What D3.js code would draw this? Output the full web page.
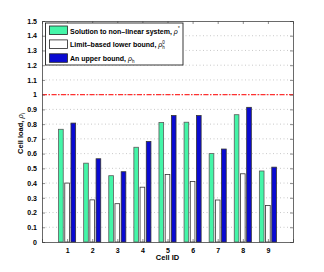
<!DOCTYPE html>
<html>
<head>
<meta charset="utf-8">
<script src="https://cdn.jsdelivr.net/npm/d3@7"></script>
<style>
  body { margin: 0; background: #fff; }
  text { font-family: "Liberation Sans", Arial, sans-serif; font-weight: bold; fill: #000; }
</style>
</head>
<body>
<div id="chart"></div>
<script>
const cells = [1, 2, 3, 4, 5, 6, 7, 8, 9];
const solution = [0.765, 0.535, 0.450, 0.643, 0.811, 0.813, 0.600, 0.864, 0.482];
const lowerBound = [0.400, 0.286, 0.260, 0.372, 0.458, 0.410, 0.285, 0.463, 0.248];
const upperBound = [0.807, 0.565, 0.477, 0.682, 0.858, 0.858, 0.631, 0.914, 0.508];
const yTicks = [0, 0.1, 0.2, 0.3, 0.4, 0.5, 0.6, 0.7, 0.8, 0.9, 1, 1.1, 1.2, 1.3, 1.4, 1.5];
const threshold = 1;

const series = [
  { key: 'sol', values: solution, fill: '#44f5a8', stroke: '#5a5a5a' },
  { key: 'low', values: lowerBound, fill: '#ffffff', stroke: '#333' },
  { key: 'up', values: upperBound, fill: '#0a0ad2', stroke: '#333' },
];

const width = 324, height = 272;
const margin = { top: 21, right: 31, bottom: 30, left: 42 };

const svg = d3.select('#chart').append('svg')
  .attr('width', width).attr('height', height);

const x = d3.scaleLinear().domain([0, 10]).range([margin.left, width - margin.right]);
const y = d3.scaleLinear().domain([0, 1.5]).range([height - margin.bottom, margin.top]);
const sub = d3.scaleBand().domain(series.map((s) => s.key)).range([-0.34, 0.34]).paddingInner(0.25);

// horizontal dotted grid
svg.append('g')
  .selectAll('line')
  .data(yTicks.slice(1, -1))
  .join('line')
  .attr('x1', x(0)).attr('x2', x(10))
  .attr('y1', (d) => y(d)).attr('y2', (d) => y(d))
  .attr('stroke', '#bbb')
  .attr('stroke-width', 0.8)
  .attr('stroke-dasharray', '1,2.5');

// bars
series.forEach((s) => {
  svg.append('g')
    .selectAll('rect')
    .data(s.values)
    .join('rect')
    .attr('x', (d, i) => x(cells[i] + sub(s.key)))
    .attr('width', x(sub.bandwidth()) - x(0))
    .attr('y', (d) => y(d))
    .attr('height', (d) => y(0) - y(d))
    .attr('fill', s.fill)
    .attr('stroke', s.stroke)
    .attr('stroke-width', 0.8);
});

// threshold line
svg.append('line')
  .attr('x1', x(0)).attr('x2', x(10))
  .attr('y1', y(threshold)).attr('y2', y(threshold))
  .attr('stroke', '#ff3030')
  .attr('stroke-width', 1.3)
  .attr('stroke-dasharray', '5,1.5,1.5,1.5');

// axes (inward ticks, boxed)
const yAxis = d3.axisLeft(y).tickValues(yTicks).tickSize(-3).tickPadding(5)
  .tickFormat((d) => d3.format('~g')(d));
const xAxis = d3.axisBottom(x).tickValues(cells).tickSize(-3).tickPadding(6);

const gy = svg.append('g').attr('transform', `translate(${x(0)},0)`).call(yAxis);
const gx = svg.append('g').attr('transform', `translate(0,${y(0)})`).call(xAxis);
svg.append('g').attr('transform', `translate(${x(10)},0)`)
  .call(d3.axisRight(y).tickValues(yTicks).tickSize(-3).tickFormat(''));
svg.append('g').attr('transform', `translate(0,${y(1.5)})`)
  .call(d3.axisTop(x).tickValues(cells).tickSize(-3).tickFormat(''));

svg.selectAll('.domain').attr('stroke', '#444').attr('stroke-width', 0.8);
svg.selectAll('.tick line').attr('stroke', '#444').attr('stroke-width', 0.6);
svg.selectAll('.tick text').attr('font-size', 7).attr('font-family', '"Liberation Sans", Arial, sans-serif').attr('font-weight', 'bold');

// axis labels
svg.append('text')
  .attr('x', (x(0) + x(10)) / 2).attr('y', 260)
  .attr('text-anchor', 'middle').attr('font-size', 7.5)
  .text('Cell ID');

const yl = svg.append('text')
  .attr('transform', `translate(23,${(y(0) + y(1.5)) / 2 + 2}) rotate(-90)`)
  .attr('text-anchor', 'middle').attr('font-size', 7.5);
yl.append('tspan').text('Cell load, ');
yl.append('tspan').attr('font-weight', 'normal').attr('font-style', 'italic').text('ρ');
yl.append('tspan').attr('font-size', 5).attr('dy', 2).attr('font-weight', 'normal').text('i');

// legend
const legendItems = [
  { label: 'Solution to non\u2013linear system, ', sup: '*', sub: '', fill: series[0].fill },
  { label: 'Limit\u2013based lower bound, ', sup: '0', sub: 'h', fill: series[1].fill },
  { label: 'An upper bound, ', sup: '', sub: 'h', fill: series[2].fill },
];

const legend = svg.append('g');
legend.append('rect')
  .attr('x', 45.5).attr('y', 23).attr('width', 137.5).attr('height', 42)
  .attr('fill', '#fff').attr('stroke', '#222').attr('stroke-width', 0.9);

const li = legend.selectAll('g.item')
  .data(legendItems)
  .join('g')
  .attr('class', 'item')
  .attr('transform', (d, i) => `translate(49.5,${26 + i * 13.9})`);

li.append('rect')
  .attr('width', 18).attr('height', 8.5)
  .attr('fill', (d) => d.fill)
  .attr('stroke', '#222').attr('stroke-width', 0.8);

li.each(function (d) {
  const t = d3.select(this).append('text')
    .attr('x', 20.5).attr('y', 7.5).attr('font-size', 7);
  t.append('tspan').text(d.label);
  t.append('tspan').attr('font-weight', 'normal').attr('font-style', 'italic').text('ρ');
  if (d.sup) {
    t.append('tspan').attr('font-size', 4.5).attr('font-weight', 'normal').attr('dy', -3.5).text(d.sup);
  }
  if (d.sub) {
    t.append('tspan').attr('font-size', 4.5).attr('font-weight', 'normal')
      .attr('dx', d.sup ? -2.5 : 0).attr('dy', d.sup ? 5.5 : 2).text(d.sub);
  }
});
</script>
</body>
</html>
